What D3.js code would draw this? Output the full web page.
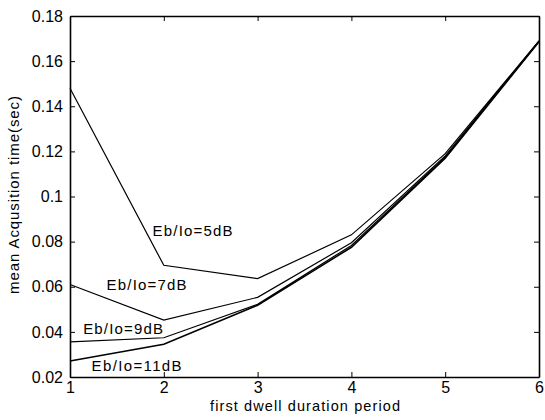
<!DOCTYPE html>
<html>
<head>
<meta charset="utf-8">
<script src="https://cdn.jsdelivr.net/npm/d3@7"></script>
<style>
  body { margin: 0; background: #fff; }
  text { font-family: "Liberation Sans", Arial, sans-serif; fill: #000; }
</style>
</head>
<body>
<svg width="545" height="420"></svg>
<script>
const periods = [1, 2, 3, 4, 5, 6];
const seriesNames = ["Eb/Io=5dB", "Eb/Io=7dB", "Eb/Io=9dB", "Eb/Io=11dB"];
const snr5 = [0.148, 0.0695, 0.0636, 0.083, 0.119, 0.169];
const snr7 = [0.061, 0.0452, 0.0553, 0.0795, 0.118, 0.169];
const snr9 = [0.0356, 0.0374, 0.0522, 0.0783, 0.1175, 0.1688];
const snr11 = [0.0271, 0.0345, 0.0518, 0.0775, 0.117, 0.1686];
const yTicks = [0.02, 0.04, 0.06, 0.08, 0.1, 0.12, 0.14, 0.16, 0.18];
// label anchor points in data units (period, seconds)
const labelPos = [[1.88, 0.0825], [1.39, 0.0585], [1.14, 0.039], [1.23, 0.0225]];

const svg = d3.select("svg");
const margin = { top: 16, right: 6, bottom: 43, left: 70 };
const width = +svg.attr("width");
const height = +svg.attr("height");
const innerWidth = width - margin.left - margin.right;
const innerHeight = height - margin.top - margin.bottom;

const g = svg.append("g")
  .attr("transform", `translate(${margin.left},${margin.top})`);

const x = d3.scaleLinear().domain([1, 6]).range([0, innerWidth]);
const y = d3.scaleLinear().domain([0.02, 0.18]).range([innerHeight, 0]);

const fmt = d => d === 0.1 ? "0.1" : d3.format(".2f")(d);

// inward ticks on all four sides, like matlab
g.append("g")
  .attr("transform", `translate(0,${innerHeight})`)
  .call(d3.axisBottom(x).tickValues(periods).tickSizeInner(-5).tickSizeOuter(0).tickPadding(5).tickFormat(d3.format("d")));
g.append("g")
  .call(d3.axisTop(x).tickValues(periods).tickSizeInner(-5).tickSizeOuter(0).tickFormat(""));
g.append("g")
  .call(d3.axisLeft(y).tickValues(yTicks).tickSizeInner(-5).tickSizeOuter(0).tickPadding(7).tickFormat(fmt));
g.append("g")
  .attr("transform", `translate(${innerWidth},0)`)
  .call(d3.axisRight(y).tickValues(yTicks).tickSizeInner(-5).tickSizeOuter(0).tickFormat(""));

g.selectAll(".domain").attr("stroke", "#000").attr("stroke-width", 1.6);
g.selectAll(".tick line").attr("stroke", "#000").attr("stroke-width", 1);
g.selectAll(".tick text")
  .style("font-size", "16px")
  .style("font-family", "'Liberation Sans', Arial, sans-serif")
  .attr("fill", "#000");

const line = d3.line()
  .x((d, i) => x(periods[i]))
  .y(d => y(d));

[snr5, snr7, snr9, snr11].forEach((s, i) => {
  g.append("path")
    .datum(s)
    .attr("fill", "none")
    .attr("stroke", "#000")
    .attr("stroke-width", i === 3 ? 1.6 : 1.2)
    .attr("d", line);
});

g.selectAll(".series-label")
  .data(seriesNames)
  .enter()
  .append("text")
  .attr("class", "series-label")
  .attr("x", (d, i) => x(labelPos[i][0]))
  .attr("y", (d, i) => y(labelPos[i][1]))
  .attr("textLength", (d, i) => i === 3 ? 90 : 80)
  .attr("lengthAdjust", "spacing")
  .style("font-size", "15px")
  .text(d => d);

svg.append("text")
  .attr("x", 305)
  .attr("y", 411)
  .attr("text-anchor", "middle")
  .attr("textLength", 190)
  .attr("lengthAdjust", "spacing")
  .style("font-size", "14.5px")
  .text("first dwell duration period");

svg.append("text")
  .attr("transform", "rotate(-90)")
  .attr("x", -195)
  .attr("y", 19)
  .attr("text-anchor", "middle")
  .attr("textLength", 198)
  .attr("lengthAdjust", "spacing")
  .style("font-size", "15px")
  .text("mean Acqusition time(sec)");
</script>
</body>
</html>
